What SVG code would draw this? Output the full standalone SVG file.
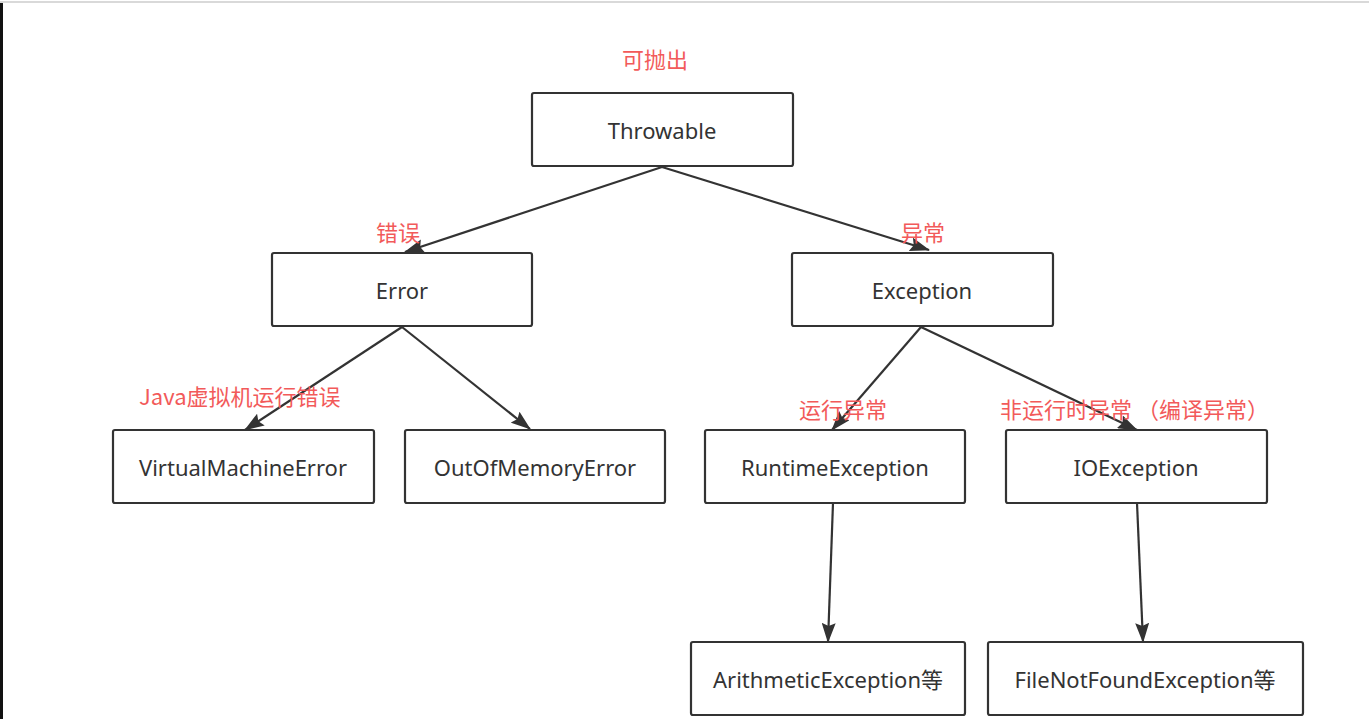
<svg xmlns="http://www.w3.org/2000/svg" width="1369" height="719" viewBox="0 0 1369 719">
<style>
.box{fill:#fff;stroke:#333;stroke-width:2.2}
.t{font-family:"Noto Sans","Noto Sans CJK SC",sans-serif;font-size:22px;fill:#333;text-anchor:middle;dominant-baseline:central}
.r{font-family:"Noto Sans CJK SC","Noto Sans",sans-serif;font-size:22px;fill:#f25a5a}
.c{stroke:#333;stroke-width:2.2;fill:none;marker-end:url(#ah)}
</style>
<defs>
<marker id="ah" viewBox="0 0 20 14" refX="19" refY="7" markerWidth="20" markerHeight="14" markerUnits="userSpaceOnUse" orient="auto">
<path d="M0,0 L20,7 L0,14 L3,7 z" fill="#333"/>
</marker>
</defs>
<rect width="1369" height="719" fill="#fff"/>
<line x1="0" y1="2" x2="1369" y2="2" stroke="#ccc" stroke-width="1.5"/>
<rect x="0" y="3" width="3" height="716" fill="#111"/>
<g id="connectors">
<path class="c" d="M662,167 L405,252"/>
<path class="c" d="M662,167 L929,250"/>
<path class="c" d="M402,327 L245,430"/>
<path class="c" d="M402,327 L530,429"/>
<path class="c" d="M921,327 L832,430"/>
<path class="c" d="M921,327 L1137,430"/>
<path class="c" d="M833,503 L828,642"/>
<path class="c" d="M1137,503 L1143,642"/>
</g>
<g id="throwable"><rect class="box" x="532" y="93" width="261" height="73" rx="2"/><text class="t" x="662" y="130">Throwable</text></g>
<g id="error"><rect class="box" x="272" y="253" width="260" height="73" rx="2"/><text class="t" x="402" y="290">Error</text></g>
<g id="exception"><rect class="box" x="792" y="253" width="261" height="73" rx="2"/><text class="t" x="922" y="290">Exception</text></g>
<g id="vme"><rect class="box" x="113" y="430" width="261" height="73" rx="2"/><text class="t" x="243" y="467">VirtualMachineError</text></g>
<g id="oom"><rect class="box" x="405" y="430" width="260" height="73" rx="2"/><text class="t" x="535" y="467">OutOfMemoryError</text></g>
<g id="runtime"><rect class="box" x="705" y="430" width="260" height="73" rx="2"/><text class="t" x="835" y="467">RuntimeException</text></g>
<g id="ioexception"><rect class="box" x="1006" y="430" width="261" height="73" rx="2"/><text class="t" x="1136" y="467">IOException</text></g>
<g id="arith"><rect class="box" x="691" y="642" width="274" height="73" rx="2"/><text class="t" x="828" y="679">ArithmeticException等</text></g>
<g id="fnf"><rect class="box" x="988" y="642" width="315" height="73" rx="2"/><text class="t" x="1145" y="679">FileNotFoundException等</text></g>
<g id="labels">
<text class="r" x="622" y="68">可抛出</text>
<text class="r" x="376" y="241">错误</text>
<text class="r" x="901" y="241">异常</text>
<text class="r" x="139" y="405">Java虚拟机运行错误</text>
<text class="r" x="799" y="418">运行异常</text>
<text class="r" x="1000" y="418">非运行时异常 （编译异常）</text>
</g>
</svg>
